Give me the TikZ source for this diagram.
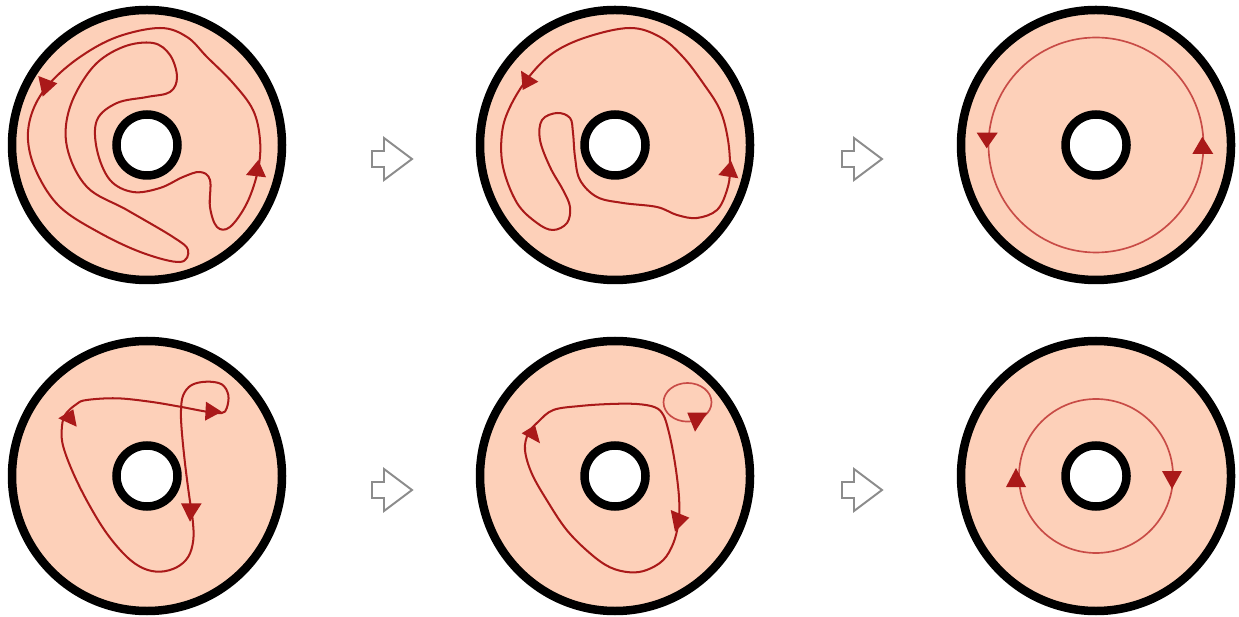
\documentclass[tikz,border=0pt]{standalone}
\definecolor{peach}{HTML}{FDD0B9}
\definecolor{loopred}{HTML}{AA1919}
\definecolor{softred}{HTML}{C84B46}
\definecolor{hintgray}{HTML}{8C8C8C}
\begin{document}
\begin{tikzpicture}[x=0.02cm, y=-0.02cm,
  ring/.style={line width=0.17cm, fill=peach},
  hole/.style={line width=0.17cm, fill=white},
  loop/.style={loopred, line width=1.15pt, line join=round},
  core/.style={softred, line width=0.95pt},
  headfill/.style={fill=loopred},
  hint/.style={hintgray, line width=1.1pt, fill=white}]
  \useasboundingbox (0,0) rectangle (1239,617);
  % annuli
  \foreach \n/\cx/\cy in {a/147/145, b/615/145, c/1096/145, d/147/476, e/615/476, f/1096/476} {
    \coordinate (\n) at (\cx,\cy);
    \draw[ring] (\n) circle[radius=135];
    \draw[hole] (\n) circle[radius=30.5];
  }
  % hollow arrows between panels
  \foreach \n/\ax/\ay in {s/392/159, t/862/159, u/392/490, v/862/490} {
    \coordinate (\n) at (\ax,\ay);
    \draw[hint] (\n) ++(-20,-8) -- ++(12,0) -- ++(0,-13) -- ++(28,21)
      -- ++(-28,21) -- ++(0,-13) -- ++(-12,0) -- cycle;
  }
  % top row
  \draw[loop] plot[smooth cycle, tension=0.6] coordinates {
    (50,83) (33,110) (28,140) (37,173) (60,207) (100,233) (143,253) (180,262)
    (188,250) (173,237) (127,210) (87,187) (67,147) (70,107) (93,67) (123,47)
    (153,43) (170,55) (177,77) (170,92) (147,97) (117,103) (97,120) (97,150)
    (110,180) (133,192) (160,188) (183,177) (200,172) (210,180) (210,207)
    (217,227) (230,227) (247,203) (258,170) (260,140) (253,110) (233,83)
    (207,57) (187,37) (160,28) (117,37) (80,57)};
  \fill[headfill] (38.3,76) -- (57.3,83.3) -- (42.7,96.7) -- cycle;
  \fill[headfill] (246,175) -- (266,177.3) -- (258.3,160) -- cycle;

  \draw[loop] plot[smooth cycle, tension=0.6] coordinates {
    (528,78) (510,107) (502,133) (503,167) (517,203) (537,223) (553,230)
    (567,223) (570,207) (563,190) (550,167) (540,140) (542,120) (557,113)
    (570,118) (573,133) (575,157) (580,180) (597,197) (623,203) (657,207)
    (677,215) (697,218) (717,210) (727,190) (730,170) (728,140) (720,110)
    (703,83) (683,57) (660,37) (630,28) (587,37) (553,53)};
  \fill[headfill] (521,70.7) -- (538.3,81.7) -- (522.7,90) -- cycle;
  \fill[headfill] (718.3,175) -- (738.3,178.3) -- (731,160.7) -- cycle;

  \draw[core] (c) circle[radius=107.5];
  \fill[headfill] (976.7,132.7) -- (997.7,132.7) -- (986.7,148.3) -- cycle;
  \fill[headfill] (1192.3,154) -- (1213.3,154) -- (1202.3,136.7) -- cycle;

  % bottom row
  \draw[loop] plot[smooth cycle, tension=0.6] coordinates {
    (76.7,404) (86.7,400) (116.7,398.3) (150,401.7) (180,406.7) (206.7,411.7)
    (221.7,413) (226.7,408.3) (228.3,395) (221.7,384.3) (206.7,381.7)
    (191.7,385) (183.3,395) (181,410) (181.7,430) (185,463.3) (189.3,496.7)
    (192.7,520) (193.3,540) (188.3,556.7) (176.7,567.3) (160,571.7)
    (143.3,568.3) (126.7,556.7) (106.7,533.3) (88.3,503.3) (73.3,473.3)
    (63.3,446.7) (61.7,430) (65,415)};
  \fill[headfill] (58.3,418.3) -- (73.3,409.3) -- (76.7,426.7) -- cycle;
  \fill[headfill] (221.7,411.7) -- (206,401.7) -- (205,420.7) -- cycle;
  \fill[headfill] (181,503.3) -- (201.7,503.3) -- (190,521.7) -- cycle;

  \draw[loop] plot[smooth cycle, tension=0.6] coordinates {
    (538.3,421.7) (553.3,410) (580,406) (610,404) (636.7,404) (655,407.3)
    (663.3,415) (668.3,430) (673.3,453.3) (677.3,480) (679.3,503.3)
    (678.3,523.3) (673.3,543.3) (663.3,560) (646.7,570) (630,572.3)
    (610,567.3) (590,553.3) (566.7,530) (546.7,500) (531.7,473.3) (525,450)
    (528.3,433.3)};
  \draw[core] (687.5,402.3) ellipse[x radius=24, y radius=19.3];
  \fill[headfill] (521.7,433.3) -- (535,425) -- (540,443.3) -- cycle;
  \fill[headfill] (687.3,412.7) -- (707.3,412.7) -- (695,431.7) -- cycle;
  \fill[headfill] (670.7,510) -- (689.3,517.7) -- (675,531.7) -- cycle;

  \draw[core] (f) circle[radius=77];
  \fill[headfill] (1016,468) -- (1006,487) -- (1026,487) -- cycle;
  \fill[headfill] (1162,471) -- (1182,471) -- (1172,489) -- cycle;
\end{tikzpicture}
\end{document}
